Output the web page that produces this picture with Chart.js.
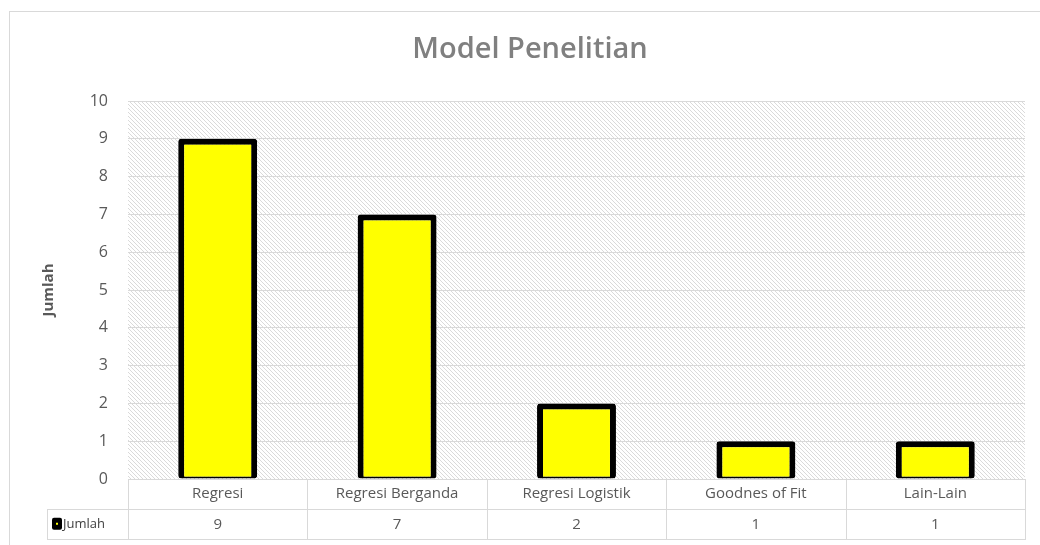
<!DOCTYPE html>
<html>
<head>
<meta charset="utf-8">
<script src="https://cdn.jsdelivr.net/npm/chart.js@4.4.1/dist/chart.umd.min.js"></script>
<style>
  html, body { margin: 0; padding: 0; background: #ffffff; }
  #wrap { width: 1040px; height: 545px; }
</style>
</head>
<body>
<div id="wrap"><canvas id="c" width="1040" height="545"></canvas></div>
<script>
// Chart content
const chartTitle = 'Model Penelitian';
const categories = ['Regresi', 'Regresi Berganda', 'Regresi Logistik', 'Goodnes of Fit', 'Lain-Lain'];
const seriesName = 'Jumlah';
const jumlah = [9, 7, 2, 1, 1];
const yAxisTitle = 'Jumlah';
const yMin = 0;
const yMax = 10;
const yStep = 1;

const FONT = "'Open Sans', 'DejaVu Sans', sans-serif";
const TEXT = '#595959';
const LINE = '#d9d9d9';

// Diagonal hatch used as the plot-area fill
function makeHatch(ctx) {
  const tile = document.createElement('canvas');
  tile.width = 4; tile.height = 4;
  const t = tile.getContext('2d');
  t.fillStyle = '#ffffff';
  t.fillRect(0, 0, 4, 4);
  t.fillStyle = '#dadada';
  for (let i = 0; i < 4; i++) t.fillRect(i, i, 1, 1);
  return ctx.createPattern(tile, 'repeat');
}

const backdrop = {
  id: 'backdrop',
  beforeDraw(chart) {
    const { ctx, chartArea: a } = chart;
    ctx.save();
    ctx.fillStyle = '#ffffff';
    ctx.fillRect(0, 0, chart.width, chart.height);
    ctx.strokeStyle = LINE;
    ctx.lineWidth = 1;
    ctx.strokeRect(9.5, 11.5, 1100, 600);
    ctx.fillStyle = makeHatch(ctx);
    ctx.fillRect(a.left, a.top, a.right - a.left, a.bottom - a.top);
    ctx.restore();
  }
};

const heading = {
  id: 'heading',
  afterDraw(chart) {
    const { ctx } = chart;
    ctx.save();
    ctx.font = '600 29px ' + FONT;
    ctx.fillStyle = '#808080';
    ctx.textAlign = 'center';
    ctx.textBaseline = 'middle';
    ctx.fillText(chartTitle, 530, 50);
    ctx.restore();
  }
};

// Data table under the plot: category row (axis labels) + value row
const dataTable = {
  id: 'dataTable',
  afterDraw(chart) {
    const { ctx, chartArea: a } = chart;
    const x = chart.scales.x;
    const rowH = 29.5;
    const top = a.bottom;
    const mid = top + 30;
    const bot = mid + rowH;
    const keyLeft = 47;
    const colW = (a.right - a.left) / categories.length;

    ctx.save();
    ctx.strokeStyle = LINE;
    ctx.lineWidth = 1;
    ctx.beginPath();
    ctx.moveTo(a.left, Math.round(top) + 0.5); ctx.lineTo(a.right, Math.round(top) + 0.5);
    ctx.moveTo(keyLeft, Math.round(mid) + 0.5); ctx.lineTo(a.right, Math.round(mid) + 0.5);
    ctx.moveTo(keyLeft, Math.round(bot) + 0.5); ctx.lineTo(a.right, Math.round(bot) + 0.5);
    for (let i = 0; i <= categories.length; i++) {
      const vx = Math.round(a.left + i * colW) + 0.5;
      ctx.moveTo(vx, Math.round(top)); ctx.lineTo(vx, Math.round(bot) + 1);
    }
    ctx.moveTo(keyLeft + 0.5, Math.round(mid)); ctx.lineTo(keyLeft + 0.5, Math.round(bot) + 1);
    ctx.stroke();

    // legend key
    const ky = (mid + bot) / 2;
    ctx.fillStyle = '#000000';
    ctx.beginPath();
    ctx.roundRect(52, ky - 6, 10, 12, 2);
    ctx.fill();
    ctx.fillStyle = '#ffff00';
    ctx.fillRect(56, ky - 1, 2, 2);

    ctx.font = '13px ' + FONT;
    ctx.fillStyle = '#404040';
    ctx.textAlign = 'left';
    ctx.textBaseline = 'middle';
    ctx.fillText(seriesName, 63, ky + 1);

    ctx.font = '15px ' + FONT;
    ctx.fillStyle = TEXT;
    ctx.textAlign = 'center';
    jumlah.forEach((v, i) => {
      ctx.fillText(String(v), x.getPixelForValue(i), ky + 1);
    });
    ctx.restore();
  }
};

new Chart(document.getElementById('c'), {
  type: 'bar',
  data: {
    labels: categories,
    datasets: [{
      label: seriesName,
      data: jumlah,
      backgroundColor: '#ffff00',
      borderColor: '#000000',
      borderWidth: { top: 6, left: 6, right: 6, bottom: 2 },
      borderSkipped: false,
      borderRadius: 3,
      barPercentage: 0.44,
      categoryPercentage: 1.0
    }]
  },
  options: {
    responsive: false,
    animation: false,
    layout: { padding: { top: 101, left: 0, right: 15, bottom: 0 } },
    plugins: {
      legend: { display: false },
      title: { display: false },
      tooltip: { enabled: false }
    },
    scales: {
      x: {
        type: 'category',
        grid: { display: false, drawTicks: false },
        border: { display: false },
        ticks: {
          font: { family: FONT, size: 15 },
          color: TEXT,
          padding: 6,
          maxRotation: 0,
          autoSkip: false
        },
        afterFit(s) { s.height = 66; s.paddingLeft = 0; s.paddingRight = 0; }
      },
      y: {
        min: yMin,
        max: yMax,
        ticks: {
          stepSize: yStep,
          font: { family: FONT, size: 16 },
          color: TEXT,
          padding: 20
        },
        grid: { color: LINE, lineWidth: 1, drawTicks: false },
        border: { display: false },
        title: {
          display: true,
          text: yAxisTitle,
          font: { family: FONT, size: 15, weight: 'bold' },
          color: TEXT,
          padding: { top: 40, bottom: 0 }
        },
        afterFit(s) { s.width = 128; s.paddingTop = 0; s.paddingBottom = 0; }
      }
    }
  },
  plugins: [backdrop, heading, dataTable]
});
</script>
</body>
</html>
